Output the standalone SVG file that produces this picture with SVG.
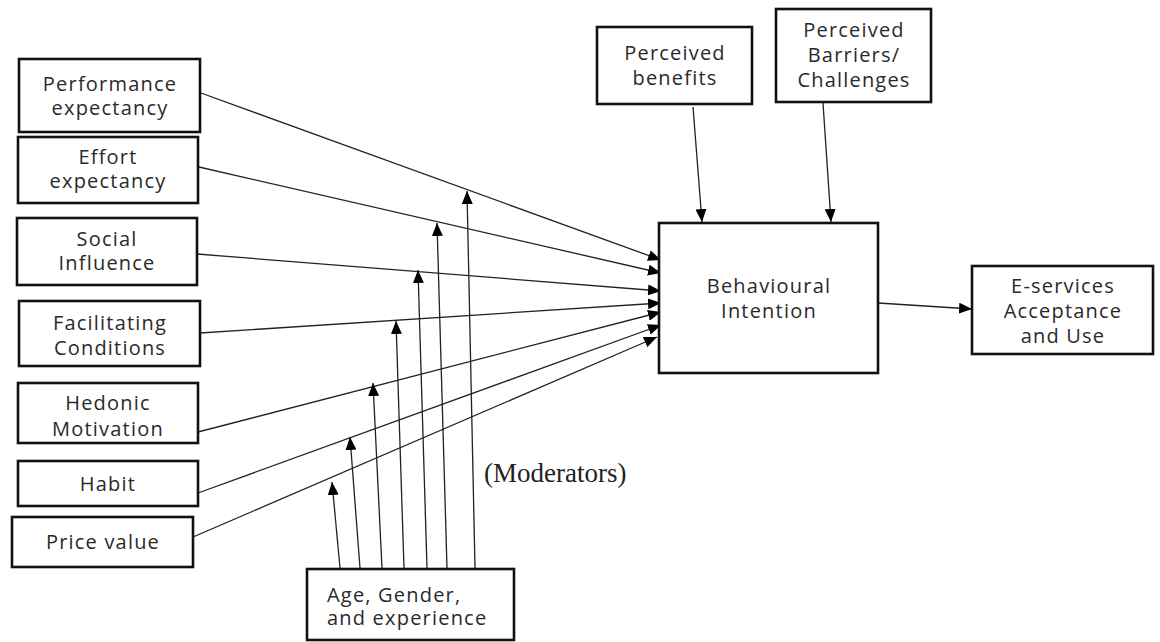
<svg xmlns="http://www.w3.org/2000/svg" width="1160" height="642" viewBox="0 0 1160 642">
<style>
.box{fill:#fff;stroke:#111;stroke-width:2.6}
.t{font-family:"Open Sans","DejaVu Sans",sans-serif;font-size:20px;letter-spacing:1.2px;fill:#2a2a2a;text-anchor:middle}
.ts{font-family:"Open Sans","DejaVu Sans",sans-serif;font-size:20px;letter-spacing:1.2px;fill:#2a2a2a}
.c{stroke:#222;stroke-width:1.3;fill:none;marker-end:url(#ah)}
.mod{font-family:"Liberation Serif","Times New Roman",serif;font-size:27px;fill:#222}
</style>
<defs>
<marker id="ah" markerUnits="userSpaceOnUse" markerWidth="13" markerHeight="11" refX="13" refY="5.5" orient="auto" viewBox="0 0 13 11">
<path d="M0,0 L13,5.5 L0,11 z" fill="#000"/>
</marker>
</defs>
<rect width="1160" height="642" fill="#fff"/>
<g id="connectors">
<line class="c" x1="201" y1="93" x2="661" y2="260"/>
<line class="c" x1="199" y1="167" x2="661" y2="273"/>
<line class="c" x1="197" y1="254" x2="661" y2="291"/>
<line class="c" x1="200" y1="333" x2="661" y2="303"/>
<line class="c" x1="198" y1="432" x2="661" y2="312"/>
<line class="c" x1="198" y1="493" x2="661" y2="325"/>
<line class="c" x1="193" y1="537" x2="657" y2="337"/>
<line class="c" x1="475" y1="568" x2="467" y2="191"/>
<line class="c" x1="447" y1="568" x2="437" y2="223"/>
<line class="c" x1="427" y1="568" x2="418" y2="270"/>
<line class="c" x1="404" y1="568" x2="396" y2="321"/>
<line class="c" x1="382" y1="568" x2="373" y2="383"/>
<line class="c" x1="360" y1="568" x2="350" y2="437"/>
<line class="c" x1="340" y1="568" x2="332" y2="482"/>
<line class="c" x1="693" y1="107" x2="702" y2="222"/>
<line class="c" x1="823" y1="103" x2="831" y2="222"/>
<line class="c" x1="878" y1="303" x2="972" y2="309"/>
</g>
<g id="performance"><rect class="box" x="19" y="59" width="181" height="73"/><text class="t" x="110" y="91">Performance</text><text class="t" x="110" y="115">expectancy</text></g>
<g id="effort"><rect class="box" x="18" y="137" width="180" height="66"/><text class="t" x="108" y="164">Effort</text><text class="t" x="108" y="188">expectancy</text></g>
<g id="social"><rect class="box" x="17" y="218" width="180" height="67"/><text class="t" x="107" y="246">Social</text><text class="t" x="107" y="270">Influence</text></g>
<g id="facilitating"><rect class="box" x="19" y="301" width="181" height="65"/><text class="t" x="110" y="330">Facilitating</text><text class="t" x="110" y="355">Conditions</text></g>
<g id="hedonic"><rect class="box" x="18" y="383" width="180" height="60"/><text class="t" x="108" y="410">Hedonic</text><text class="t" x="108" y="436">Motivation</text></g>
<g id="habit"><rect class="box" x="18" y="461" width="180" height="45"/><text class="t" x="108" y="491">Habit</text></g>
<g id="price"><rect class="box" x="12" y="517" width="181" height="50"/><text class="t" x="103" y="549">Price value</text></g>
<g id="benefits"><rect class="box" x="597" y="27" width="155" height="77"/><text class="t" x="675" y="60">Perceived</text><text class="t" x="675" y="85">benefits</text></g>
<g id="barriers"><rect class="box" x="776" y="9" width="155" height="93"/><text class="t" x="854" y="37">Perceived</text><text class="t" x="854" y="62">Barriers/</text><text class="t" x="854" y="87">Challenges</text></g>
<g id="intention"><rect class="box" x="659" y="223" width="219" height="150"/><text class="t" x="769" y="293">Behavioural</text><text class="t" x="769" y="318">Intention</text></g>
<g id="eservices"><rect class="box" x="972" y="266" width="181" height="88"/><text class="t" x="1063" y="293">E-services</text><text class="t" x="1063" y="318">Acceptance</text><text class="t" x="1063" y="343">and Use</text></g>
<g id="moderators"><rect class="box" x="307" y="569" width="207" height="71"/><text class="ts" x="327" y="602">Age, Gender,</text><text class="ts" x="327" y="625">and experience</text></g>
<text class="mod" x="484" y="482">(Moderators)</text>
</svg>
